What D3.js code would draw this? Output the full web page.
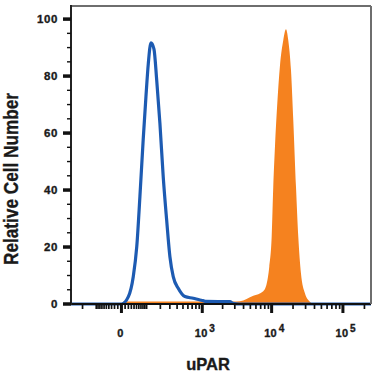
<!DOCTYPE html>
<html>
<head>
<meta charset="utf-8">
<script src="https://cdn.jsdelivr.net/npm/d3@7"></script>
<style>
  html, body { margin: 0; padding: 0; background: #fff; }
  svg { display: block; }
  text { font-family: "Liberation Sans", Arial, sans-serif; font-weight: bold; fill: #1a1a1a; stroke: #1a1a1a; stroke-width: 0.35px; }
</style>
</head>
<body>
<svg id="chart" width="375" height="375"></svg>
<script>
// ---------- data ----------
const blueX = [-326, 0, 20, 37, 51, 65, 81, 96, 110, 127, 148, 169, 196, 227, 263, 301, 344, 418, 538, 728, 922, 1024, 1136, 2550, 2820, 3500, 247100];
const blueY = [0, 0, 2.6, 9.6, 20.1, 37.7, 57.5, 72.7, 84.4, 91.7, 89.5, 78.6, 63.5, 44.7, 29.5, 16.6, 9.6, 5.5, 2.6, 2.0, 1.4, 1.2, 0.9, 0.8, 0.2, 0, 0];

const orangeX = [-326, 0, 5, 2800, 3550, 5500, 7620, 8510, 9260, 10010, 10540, 11140, 12010, 13100, 14580, 15910, 17140, 18710, 20150, 22010, 23700, 25830, 29370, 34520, 38440, 247100];
const orangeY = [0, 0, 0.9, 0.9, 1.0, 2.9, 4.5, 7.1, 13.1, 23.6, 41.1, 55.2, 70.4, 83.6, 92.6, 96.4, 92.6, 82.1, 64.6, 41.1, 23.6, 10.8, 3.8, 0.8, 0, 0];

const yMajorTicks = [0, 20, 40, 60, 80, 100];
const yMinorTicks = [5, 10, 15, 25, 30, 35, 45, 50, 55, 65, 70, 75, 85, 90, 95];
const xMajorTicks = [0, 1000, 10000, 100000];
const xMajorLabels = ["0", "10", "10", "10"];
const xMajorExps = ["", "3", "4", "5"];
const xMinorTicks = [-200, -100, -90, -80, -70, -60, -50, -40, -30, -20, -10,
  10, 20, 30, 40, 50, 60, 70, 80, 90,
  100, 200, 300, 400, 500, 600, 700, 800, 900,
  2000, 3000, 4000, 5000, 6000, 7000, 8000, 9000,
  20000, 30000, 40000, 50000, 60000, 70000, 80000, 90000,
  200000];
const xTitle = "uPAR";
const yTitle = "Relative Cell Number";

// ---------- layout ----------
const L = 71, R = 371, T = 6, B = 304;
const svg = d3.select("#chart");

const x = d3.scaleSymlog().constant(80).domain([-326, 247100]).range([L, R]);
const y = d3.scaleLinear().domain([0, 104.6]).range([B, T]);

const blue = "#1d5bb2", orange = "#f5821f";

svg.append("defs").append("clipPath").attr("id", "clip")
  .append("rect").attr("x", L).attr("y", T).attr("width", R - L).attr("height", B - T + 3);

const plot = svg.append("g").attr("clip-path", "url(#clip)");

const orangeData = orangeX.map((v, i) => [v, orangeY[i]]);
const blueData = blueX.map((v, i) => [v, blueY[i]]);

plot.append("path")
  .datum(orangeData)
  .attr("fill", orange)
  .attr("d", d3.area().x(d => x(d[0])).y0(y(0)).y1(d => y(d[1])).curve(d3.curveMonotoneX));

// bottom axis line
svg.append("line").attr("x1", L).attr("x2", R).attr("y1", B).attr("y2", B)
  .attr("stroke", "#111").attr("stroke-width", 2);

plot.append("path")
  .datum(blueData)
  .attr("fill", "none")
  .attr("stroke", blue)
  .attr("stroke-width", 3.2)
  .attr("stroke-linejoin", "round")
  .attr("d", d3.line().x(d => x(d[0])).y(d => y(d[1])).curve(d3.curveMonotoneX));

// frame
svg.append("line").attr("x1", L).attr("x2", R).attr("y1", T).attr("y2", T)
  .attr("stroke", "#6e6e6e").attr("stroke-width", 2);
svg.append("line").attr("x1", R).attr("x2", R).attr("y1", T).attr("y2", B)
  .attr("stroke", "#6e6e6e").attr("stroke-width", 2);
svg.append("line").attr("x1", L).attr("x2", L).attr("y1", T - 1).attr("y2", B + 1)
  .attr("stroke", "#222").attr("stroke-width", 2);

// y ticks
svg.selectAll(".ymin").data(yMinorTicks).join("line")
  .attr("x1", L - 4).attr("x2", L).attr("y1", d => y(d)).attr("y2", d => y(d))
  .attr("stroke", "#111").attr("stroke-width", 1.4);
svg.selectAll(".ymaj").data(yMajorTicks).join("line")
  .attr("x1", L - 8).attr("x2", L).attr("y1", d => y(d)).attr("y2", d => y(d))
  .attr("stroke", "#111").attr("stroke-width", 3.5);
svg.selectAll(".ylab").data(yMajorTicks).join("text")
  .attr("x", 58).attr("y", d => y(d)).attr("dy", "0.36em")
  .attr("text-anchor", "end").attr("font-size", 11.5).attr("letter-spacing", 0.6)
  .text(d => d);

// x ticks
svg.selectAll(".xmin").data(xMinorTicks).join("line")
  .attr("x1", d => x(d)).attr("x2", d => x(d)).attr("y1", B).attr("y2", B + 5)
  .attr("stroke", "#111").attr("stroke-width", 1.7);
svg.selectAll(".xmaj").data(xMajorTicks).join("line")
  .attr("x1", d => x(d)).attr("x2", d => x(d)).attr("y1", B).attr("y2", B + 9)
  .attr("stroke", "#111").attr("stroke-width", 3);

xMajorTicks.forEach((t, i) => {
  const px = x(t) - 1;
  svg.append("text").attr("x", px).attr("y", 337)
    .attr("text-anchor", "middle").attr("font-size", 11).attr("letter-spacing", 0.3)
    .text(xMajorLabels[i]);
  if (xMajorExps[i]) {
    svg.append("text").attr("x", px + 8).attr("y", 331.5)
      .attr("text-anchor", "start").attr("font-size", 10)
      .text(xMajorExps[i]);
  }
});

// titles
svg.append("text").attr("x", 208).attr("y", 370)
  .attr("text-anchor", "middle").attr("font-size", 16.5)
  .text(xTitle);
svg.append("text")
  .attr("transform", "translate(17.5,179) rotate(-90)")
  .attr("text-anchor", "middle").attr("font-size", 20)
  .attr("textLength", 172).attr("lengthAdjust", "spacingAndGlyphs")
  .text(yTitle);
</script>
</body>
</html>
